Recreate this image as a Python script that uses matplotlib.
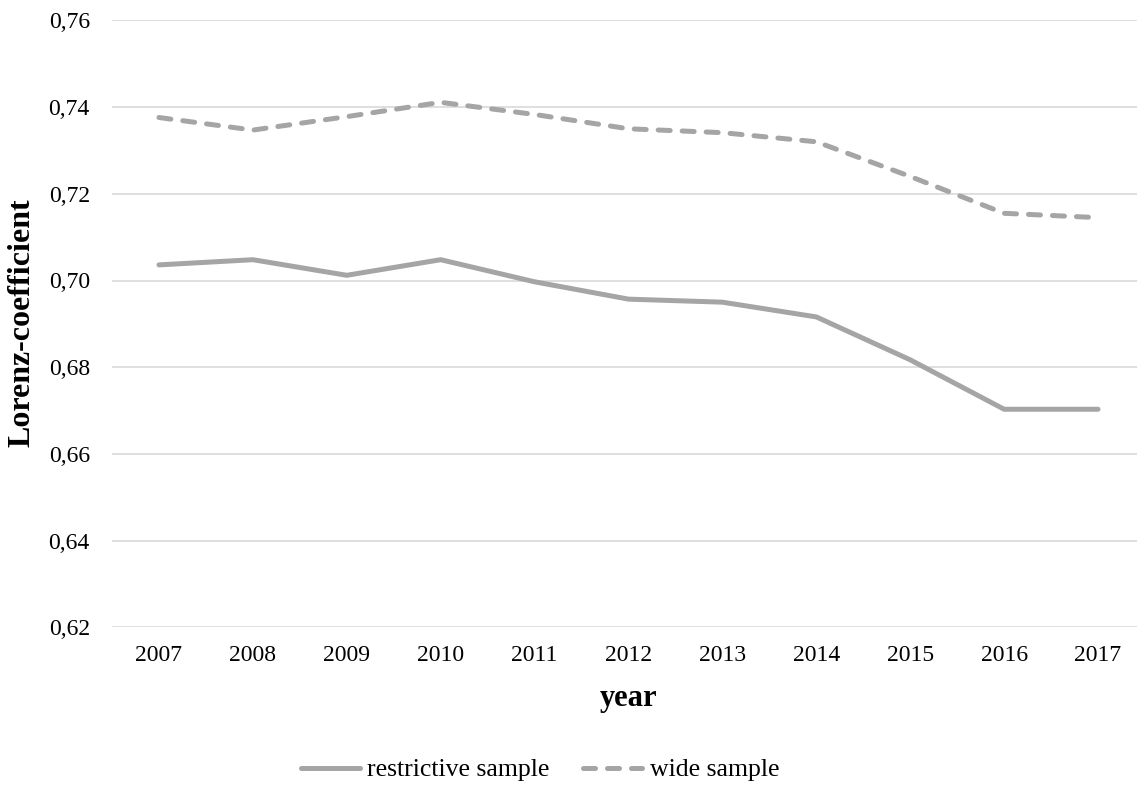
import matplotlib
matplotlib.use("Agg")
import matplotlib.pyplot as plt

years = ["2007", "2008", "2009", "2010", "2011", "2012", "2013", "2014", "2015", "2016", "2017"]
restrictive = [0.7036, 0.7048, 0.7012, 0.7048, 0.6997, 0.6957, 0.6950, 0.6916, 0.6817, 0.6703, 0.6703]
wide = [0.7376, 0.7347, 0.7378, 0.7411, 0.7383, 0.7350, 0.7341, 0.7320, 0.7240, 0.7155, 0.7145]
yticks = [0.62, 0.64, 0.66, 0.68, 0.70, 0.72, 0.74, 0.76]
ytick_labels = ["0,62", "0,64", "0,66", "0,68", "0,70", "0,72", "0,74", "0,76"]

plt.rcParams['font.family'] = ['Liberation Serif', 'DejaVu Serif']

W, H = 1137, 787
fig = plt.figure(figsize=(W / 100, H / 100), dpi=100)
left, right = 112, 1145
bottom, top = 627.3, 20.4
ax = fig.add_axes([left / W, (H - bottom) / H, (right - left) / W, (bottom - top) / H])

x = list(range(len(years)))
color = "#A5A5A5"
ax.plot(x, restrictive, color=color, lw=3.6, solid_capstyle="round", solid_joinstyle="round",
        label="restrictive sample", zorder=3)
ax.plot(x, wide, color=color, lw=3.6, linestyle=(0, (2.4, 2.4)), dash_capstyle="round",
        label="wide sample", zorder=3)

ax.set_xlim(-0.5, len(years) - 0.5)
ax.set_ylim(0.62, 0.76)
ax.set_yticks(yticks)
ax.set_yticklabels(ytick_labels)
ax.set_xticks(x)
ax.set_xticklabels(years)
ax.grid(axis="y", color="#D9D9D9", lw=1.2)
ax.set_axisbelow(True)
for s in ax.spines.values():
    s.set_visible(False)
ax.tick_params(axis="both", length=0, labelsize=17, colors="black")
ax.tick_params(axis="x", pad=13)
ax.tick_params(axis="y", pad=16)

ax.set_xlabel("year", fontsize=22, fontweight="bold", labelpad=13)
fig.text(22 / W, 1 - 323 / H, "Lorenz-coefficient", rotation=90, ha="center", va="center",
         fontsize=23, fontweight="bold")

fig.legend(loc="center", bbox_to_anchor=(540 / W, 17 / H), ncol=2, frameon=False,
           fontsize=18.5, handlelength=2.3, handletextpad=0.3, columnspacing=1.3)

fig.savefig("out.png", dpi=100)
